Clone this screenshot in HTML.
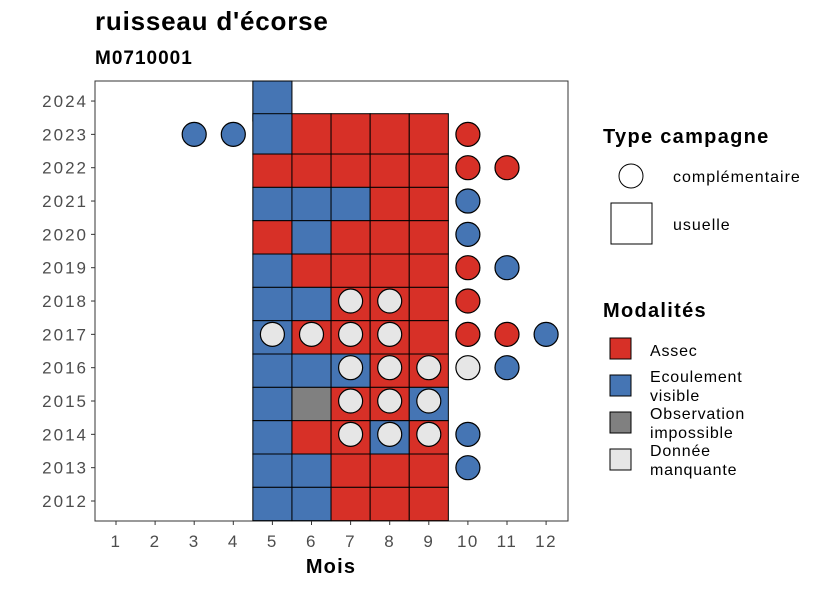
<!DOCTYPE html>
<html><head><meta charset="utf-8"><style>
body{margin:0;background:#fff;font-family:"Liberation Sans",sans-serif}
</style></head><body>
<svg id="c" width="826" height="590" xmlns="http://www.w3.org/2000/svg" font-family="Liberation Sans, sans-serif">
<text x="95" y="30" font-size="26" font-weight="bold" letter-spacing="0.8">ruisseau d'écorse</text>
<text x="95" y="64" font-size="19" font-weight="bold" letter-spacing="1">M0710001</text>
<rect x="95" y="81" width="473" height="440" fill="#fff" stroke="#333" stroke-width="1"/>
<g id="tiles"></g><g id="pts"></g><g id="axes"></g>
<text x="331" y="573" font-size="20" font-weight="bold" letter-spacing="1.2" text-anchor="middle">Mois</text>
<g>
<text x="603" y="143" font-size="20" font-weight="bold" letter-spacing="1.3">Type campagne</text>
<circle cx="631" cy="176" r="12" fill="#fff" stroke="#000"/>
<text x="673" y="182" font-size="16" letter-spacing="1">complémentaire</text>
<rect x="611" y="203" width="41" height="41" fill="#fff" stroke="#000"/>
<text x="673" y="230" font-size="16" letter-spacing="1">usuelle</text>
</g>
<g>
<text x="603" y="317" font-size="20" font-weight="bold" letter-spacing="1.3">Modalités</text>
<rect x="610" y="338" width="21" height="21" fill="#d73027" stroke="#000"/>
<text x="650" y="356" font-size="16" letter-spacing="0.8">Assec</text>
<rect x="610" y="375" width="21" height="21" fill="#4575b4" stroke="#000"/>
<text x="650" y="382" font-size="16" letter-spacing="0.8"><tspan x="650">Ecoulement</tspan><tspan x="650" dy="19">visible</tspan></text>
<rect x="610" y="412" width="21" height="21" fill="#808080" stroke="#000"/>
<text x="650" y="419" font-size="16" letter-spacing="0.8"><tspan x="650">Observation</tspan><tspan x="650" dy="19">impossible</tspan></text>
<rect x="610" y="449" width="21" height="21" fill="#e6e6e6" stroke="#000"/>
<text x="650" y="456" font-size="16" letter-spacing="0.8"><tspan x="650">Donnée</tspan><tspan x="650" dy="19">manquante</tspan></text>
</g>
</svg>
<script>
const months=[1,2,3,4,5,6,7,8,9,10,11,12];
const years=[2012,2013,2014,2015,2016,2017,2018,2019,2020,2021,2022,2023,2024];
// tiles: year, month, modality (A=assec, E=ecoulement, O=obs impossible)
const tileYears=[2024,2023,2023,2023,2023,2023,2022,2022,2022,2022,2022,2021,2021,2021,2021,2021,2020,2020,2020,2020,2020,2019,2019,2019,2019,2019,2018,2018,2018,2018,2018,2017,2017,2017,2017,2017,2016,2016,2016,2016,2016,2015,2015,2015,2015,2015,2014,2014,2014,2014,2014,2013,2013,2013,2013,2013,2012,2012,2012,2012,2012];
const tileMonths=[5,5,6,7,8,9,5,6,7,8,9,5,6,7,8,9,5,6,7,8,9,5,6,7,8,9,5,6,7,8,9,5,6,7,8,9,5,6,7,8,9,5,6,7,8,9,5,6,7,8,9,5,6,7,8,9,5,6,7,8,9];
const tileMods="E,E,A,A,A,A,A,A,A,A,A,E,E,E,A,A,A,E,A,A,A,E,A,A,A,A,E,E,A,A,A,E,A,A,A,A,E,E,E,A,A,E,O,A,A,E,E,A,A,E,A,E,E,A,A,A,E,E,A,A,A".split(",");
// points (campagne complémentaire / donnée manquante)
const ptYears=[2023,2023,2023,2022,2022,2021,2020,2019,2019,2018,2018,2018,2017,2017,2017,2017,2017,2017,2017,2016,2016,2016,2016,2016,2015,2015,2015,2014,2014,2014,2014,2013];
const ptMonths=[3,4,10,10,11,10,10,10,11,7,8,10,5,6,7,8,10,11,12,7,8,9,10,11,7,8,9,7,8,9,10,10];
const ptMods="E,E,A,A,A,E,E,A,E,M,M,A,M,M,M,M,A,A,E,M,M,M,M,E,M,M,M,M,M,M,E,E".split(",");
const colors={A:"#d73027",E:"#4575b4",O:"#808080",M:"#e6e6e6"};
const x=m=>116+(m-1)*39.1;
const y=yr=>501-(yr-2012)*33.33;
const NS="http://www.w3.org/2000/svg";
function mk(t,a,p){const e=document.createElementNS(NS,t);for(const k in a)e.setAttribute(k,a[k]);p.appendChild(e);return e;}
const tg=document.getElementById('tiles'),pg=document.getElementById('pts'),ag=document.getElementById('axes');
tileYears.forEach((yr,i)=>{
  const m=tileMonths[i];let top=y(yr+0.5)+3,bot=Math.min(521,y(yr-0.5)+3);
  if(yr===2023)top-=7;
  if(yr===2024){top=81;bot=121;}
  const r=mk('rect',{x:x(m-0.5),y:top,width:x(m+0.5)-x(m-0.5),height:bot-top,fill:colors[tileMods[i]],stroke:"#000","stroke-width":1},tg);
  
  
});
ptYears.forEach((yr,i)=>{
  const c=mk('circle',{cx:x(ptMonths[i]),cy:y(yr),r:12,fill:colors[ptMods[i]],stroke:"#000","stroke-width":1.2},pg);
  
  
});
months.forEach(m=>{
  mk('line',{x1:x(m),x2:x(m),y1:521,y2:525,stroke:"#333"},ag);
  const t=mk('text',{x:x(m),y:547,"font-size":17,"letter-spacing":1.5,fill:"#4d4d4d","text-anchor":"middle"},ag);t.textContent=m;
  
  
});
years.forEach(yr=>{
  mk('line',{x1:91,x2:95,y1:y(yr),y2:y(yr),stroke:"#333"},ag);
  const t=mk('text',{x:88,y:y(yr)+6,"font-size":17,"letter-spacing":2,fill:"#4d4d4d","text-anchor":"end"},ag);t.textContent=yr;
  
  
});
</script>
</body></html>
